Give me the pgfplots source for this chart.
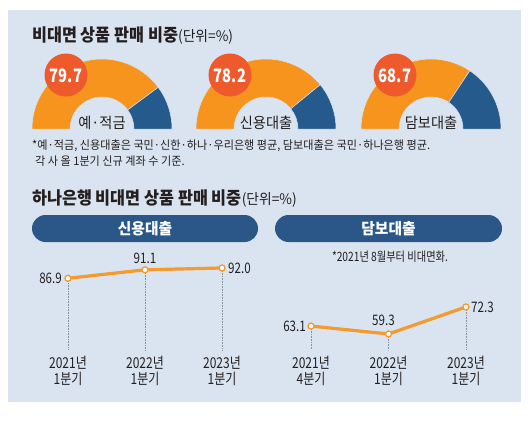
\documentclass[border=0pt]{standalone}
\usepackage{fontspec}
\setmainfont{Noto Sans CJK KR}
\newfontfamily\nf[FakeStretch=0.8]{Noto Sans CJK KR}
\newfontfamily\tf[FakeStretch=0.95]{Noto Sans CJK KR}
\newfontfamily\hf[FakeStretch=0.93]{Noto Sans CJK KR Black}
\usepackage{pgfplots}
\pgfplotsset{compat=1.18}
\definecolor{panel}{HTML}{DAE4F0}
\definecolor{gor}{HTML}{F7941E}
\definecolor{gblue}{HTML}{245B8C}
\definecolor{gred}{HTML}{EE5A2C}
\definecolor{banner}{HTML}{2B5788}
\definecolor{lor}{HTML}{F49A2E}
\definecolor{txt}{HTML}{231F20}
\definecolor{dotc}{HTML}{8C9099}
% gauge: centre x, value, label
\newcommand{\gauge}[3]{%
  \fill[gor, draw=panel, line width=0.5pt] (axis cs:#1-70,129) arc[start angle=180, end angle={180-1.8*#2}, radius=70pt]
     -- ++({180-1.8*#2}:-38pt) arc[start angle={180-1.8*#2}, end angle=180, radius=32pt] -- cycle;
  \fill[gblue, draw=panel, line width=0.5pt] (axis cs:#1+70,129) arc[start angle=0, end angle={180-1.8*#2}, radius=70pt]
     -- ++({180-1.8*#2}:-38pt) arc[start angle={180-1.8*#2}, end angle=0, radius=32pt] -- cycle;
  \fill[gred] (axis cs:#1-36,75) circle[radius=21.5pt];
  \node[anchor=base, inner sep=0, text=white] at (axis cs:#1-36,82) {\nf\fontsize{18.5}{20}\selectfont\bfseries #2};
  \node[anchor=base, inner sep=0, text=txt] at (axis cs:#1,128.5) {\tf\fontsize{15}{16}\selectfont #3};
}
\begin{document}
\begin{tikzpicture}
\begin{axis}[at={(0,0)}, anchor=south west, width=530pt, height=428pt, scale only axis,
  xmin=0, xmax=530, ymin=0, ymax=428, y dir=reverse, hide axis, clip=false]
  \fill[white] (axis cs:0,0) rectangle (axis cs:530,428);
  \fill[panel] (axis cs:8,10) rectangle (axis cs:521,402);
  \node[anchor=base west, inner sep=0, text=txt] at (axis cs:32,41.5) {\hf\fontsize{17.5}{19}\selectfont 비대면 상품 판매 비중\tf\fontsize{14.5}{16}\selectfont(단위=\%)};
  \gauge{102}{79.7}{예·적금}
  \gauge{266}{78.2}{신용대출}
  \gauge{431}{68.7}{담보대출}
  \node[anchor=base west, inner sep=0, text=txt] at (axis cs:32,149.5) {\tf\fontsize{11.7}{13}\selectfont *예·적금, 신용대출은 국민·신한·하나·우리은행 평균, 담보대출은 국민·하나은행 평균.};
  \node[anchor=base west, inner sep=0, text=txt] at (axis cs:35,165.5) {\tf\fontsize{11.7}{13}\selectfont 각 사 올 1분기 신규 계좌 수 기준.};
  \node[anchor=base west, inner sep=0, text=txt] at (axis cs:32,204) {\hf\fontsize{17.5}{19}\selectfont 하나은행 비대면 상품 판매 비중\tf\fontsize{14.5}{16}\selectfont(단위=\%)};
  \fill[banner, rounded corners=13.5pt] (axis cs:32,215) rectangle (axis cs:258,242);
  \fill[banner, rounded corners=13.5pt] (axis cs:275,215) rectangle (axis cs:502,242);
  \node[anchor=base, inner sep=0, text=white] at (axis cs:145,234.5) {\tf\fontsize{15.5}{17}\selectfont\bfseries 신용대출};
  \node[anchor=base, inner sep=0, text=white] at (axis cs:388.5,234.5) {\tf\fontsize{15.5}{17}\selectfont\bfseries 담보대출};
  \node[anchor=base, inner sep=0, text=txt] at (axis cs:390,261.5) {\nf\fontsize{12.8}{14}\selectfont *2021년 8월부터 비대면화.};
\end{axis}
% credit loans
\begin{axis}[at={(68pt,78pt)}, anchor=south west, width=154pt, height=88.07pt, scale only axis,
  xmin=0, xmax=2, ymin=51.4, ymax=95, clip=false,
  axis line style={draw=none}, tick style={draw=none}, ytick=\empty,
  xtick={0,1,2}, xticklabels={{2021년\\1분기},{2022년\\1분기},{2023년\\1분기}},
  xticklabel style={align=center, font=\nf\fontsize{15}{16}\selectfont, text=txt, inner sep=0pt, yshift=-6pt}]
  \draw[densely dotted, dotc, line width=0.6pt] (axis cs:0,86.9) -- (axis cs:0,51.4);
  \draw[densely dotted, dotc, line width=0.6pt] (axis cs:1,91.1) -- (axis cs:1,51.4);
  \draw[densely dotted, dotc, line width=0.6pt] (axis cs:2,92.0) -- (axis cs:2,51.4);
  \addplot[lor, line width=3.2pt, mark=*, mark size=3pt, mark options={fill=white, draw=lor, line width=1.3pt}]
    coordinates {(0,86.9) (1,91.1) (2,92.0)};
  \node[anchor=east, inner sep=0, text=txt, font=\nf\fontsize{14.5}{16}\selectfont] at (axis cs:0,86.9) [xshift=-6pt] {86.9};
  \node[anchor=center, inner sep=0, text=txt, font=\nf\fontsize{14.5}{16}\selectfont] at (axis cs:1,91.1) [yshift=11pt] {91.1};
  \node[anchor=west, inner sep=0, text=txt, font=\nf\fontsize{14.5}{16}\selectfont] at (axis cs:2,92.0) [xshift=6pt] {92.0};
\end{axis}
% mortgage loans
\begin{axis}[at={(311pt,78pt)}, anchor=south west, width=155pt, height=59.07pt, scale only axis,
  xmin=0, xmax=2, ymin=51.6, ymax=80, clip=false,
  axis line style={draw=none}, tick style={draw=none}, ytick=\empty,
  xtick={0,1,2}, xticklabels={{2021년\\4분기},{2022년\\1분기},{2023년\\1분기}},
  xticklabel style={align=center, font=\nf\fontsize{15}{16}\selectfont, text=txt, inner sep=0pt, yshift=-6pt}]
  \draw[densely dotted, dotc, line width=0.6pt] (axis cs:0,63.1) -- (axis cs:0,51.6);
  \draw[densely dotted, dotc, line width=0.6pt] (axis cs:1,59.3) -- (axis cs:1,51.6);
  \draw[densely dotted, dotc, line width=0.6pt] (axis cs:2,72.3) -- (axis cs:2,51.6);
  \addplot[lor, line width=3.2pt, mark=*, mark size=3pt, mark options={fill=white, draw=lor, line width=1.3pt}]
    coordinates {(0,63.1) (1,59.3) (2,72.3)};
  \node[anchor=east, inner sep=0, text=txt, font=\nf\fontsize{14.5}{16}\selectfont] at (axis cs:0,63.1) [xshift=-5pt] {63.1};
  \node[anchor=center, inner sep=0, text=txt, font=\nf\fontsize{14.5}{16}\selectfont] at (axis cs:1,59.3) [xshift=-5pt, yshift=14pt] {59.3};
  \node[anchor=west, inner sep=0, text=txt, font=\nf\fontsize{14.5}{16}\selectfont] at (axis cs:2,72.3) [xshift=5pt] {72.3};
\end{axis}
\end{tikzpicture}
\end{document}
